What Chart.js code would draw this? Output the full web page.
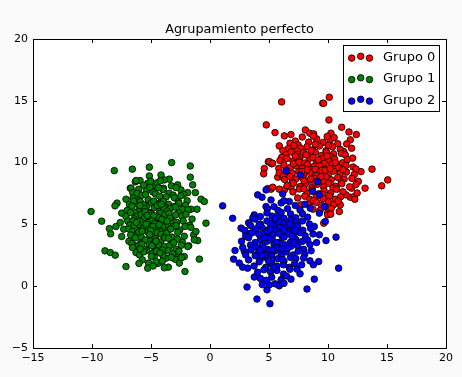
<!DOCTYPE html>
<html>
<head>
<meta charset="utf-8">
<script src="https://cdn.jsdelivr.net/npm/chart.js@4.4.1/dist/chart.umd.min.js"></script>
<style>
html,body{margin:0;padding:0;background:#fafafa;}
canvas{display:block;}
</style>
</head>
<body>
<canvas id="c" width="462" height="377"></canvas>
<script>
const chartTitle = "Agrupamiento perfecto";
const seriesNames = ["Grupo 0", "Grupo 1", "Grupo 2"];
const xTicks = [-15, -10, -5, 0, 5, 10, 15, 20];
const yTicks = [-5, 0, 5, 10, 15, 20];

// Grupo 0 (red)
const grupo0 = [
[6.07,14.91],[9.55,14.8],[4.77,13.05],[5.51,12.43],[6.3,12.16],[6.86,12.27],[8.08,12.64],[8.45,12.38],[8.79,12.32],[5.87,11.35],[6.3,10.87],[4.94,10.06],[5.23,9.9],[4.6,9.52],[4.55,9.09],[5.74,8.82],[4.89,7.9],[6.3,7.79],
[10.11,15.29],[9.63,14.8],[10.08,13.45],[11.16,12.86],[10.25,12.38],[11.78,12.48],[12.4,12.27],[11.89,11.84],[11.58,11.51],[12.0,11.16],[11.33,10.89],[12.09,10.36],[13.73,9.47],[12.8,9.27],[15.06,8.6],[14.55,8.12],[13.14,7.93],[12.0,7.93],[11.89,7.2],[11.53,7.39],[11.04,6.58],[10.96,6.04],
[9.64,5.1],[9.97,5.91],[9.97,5.77],[5.03,10.08],[5.31,9.95],[6.16,8.82],[5.17,7.85],[5.87,7.85],[6.86,8.01],[12.23,7.25],[5.31,8.01],[7.71,6.58],[8.7,6.85],
[7.23,11.74],[7.82,12.07],[8.37,11.66],[9.04,11.92],[9.57,11.63],[10.18,11.81],[10.83,11.52],[7.47,11.43],[8.76,12.14],[9.93,12.11],[6.78,11.57],[10.52,12.02],
[6.63,11.13],[7.12,11.37],[7.68,11.16],[8.23,11.29],[8.71,11.02],[9.27,11.34],[9.83,10.96],[10.38,11.28],[11.04,11.07],[7.38,10.93],[8.93,11.48],[10.03,11.41],[6.17,10.97],
[6.42,10.63],[6.87,10.86],[7.43,10.67],[7.93,10.79],[8.38,10.48],[8.92,10.83],[9.43,10.57],[9.87,10.84],[10.47,10.71],[11.13,10.74],[7.63,10.42],[8.58,10.98],[10.23,10.46],[11.47,10.63],[6.08,10.43],
[5.93,10.17],[6.53,10.34],[7.03,10.12],[7.48,10.28],[8.03,9.97],[8.47,10.36],[9.02,10.07],[9.53,10.33],[10.02,10.19],[10.57,10.28],[11.23,9.98],[7.23,10.52],[8.73,10.41],[9.68,9.93],[11.63,10.24],
[5.83,9.53],[6.27,9.81],[6.83,9.62],[7.27,9.74],[7.83,9.53],[8.27,9.84],[8.83,9.71],[9.27,9.79],[9.82,9.48],[10.33,9.86],[10.87,9.57],[11.53,9.77],[12.13,9.64],[7.08,9.91],[8.57,9.43],[10.63,10.01],[12.37,9.48],
[5.87,9.17],[6.53,9.33],[6.97,9.14],[7.53,9.29],[7.97,9.02],[8.47,9.22],[9.03,8.96],[9.47,9.37],[10.03,9.08],[10.47,9.31],[11.03,9.12],[11.57,9.23],[12.23,9.03],[6.23,8.94],[8.23,9.41],[9.77,9.39],[11.27,9.42],
[6.33,8.63],[6.78,8.87],[7.27,8.67],[7.83,8.78],[8.27,8.48],[8.83,8.74],[9.27,8.53],[9.83,8.84],[10.27,8.61],[10.83,8.79],[11.37,8.67],[12.03,8.73],[12.57,8.48],[6.97,8.42],[9.63,8.44],[11.13,8.43],
[6.53,8.13],[7.07,8.33],[7.63,8.06],[8.07,8.28],[8.63,7.98],[9.07,8.24],[9.63,8.03],[10.07,8.33],[10.63,8.09],[11.17,8.29],[11.83,8.04],[12.37,8.23],[8.87,8.41],[10.43,7.94],
[7.03,7.63],[7.57,7.86],[8.23,7.53],[8.67,7.79],[9.23,7.48],[9.67,7.73],[10.23,7.54],[10.73,7.84],[11.27,7.63],[12.47,7.54],[7.97,7.88],[9.53,7.43],
[7.43,7.14],[8.03,7.28],[8.47,7.03],[9.03,7.33],[9.57,7.08],[10.13,7.28],[10.63,7.04],[11.07,7.23],[8.77,6.93],[12.27,7.03],
[8.27,6.63],[9.03,6.78],[9.47,6.53],[10.03,6.83],[10.47,6.58],[10.87,6.88],[9.77,6.43],
[9.33,6.13],[10.27,6.28],[10.23,5.83],[8.73,6.23],
[8.14,10.63],[9.18,10.22],[7.76,9.27],[9.41,8.87],[8.53,8.67],[7.54,10.04],[10.17,9.52],[8.91,9.46],[9.92,10.53],[7.97,8.52]
];

// Grupo 1 (green)
const grupo1 = [
[-8.11,9.35],[-6.58,9.47],[-5.14,9.63],[-5.14,8.92],[-6.33,8.44],[-5.93,8.55],[-10.08,6.04],[-9.18,5.26],[-7.88,6.72],[-8.05,6.5],[-7.12,7.04],[-7.48,5.91],[-8.53,4.66],[-8.42,4.24],[-7.97,4.83],[-7.6,5.15],[-7.31,4.61],[-7.48,4.02],[-8.9,2.86],[-8.45,2.72],[-8.03,2.51],[-7.12,1.59],[-6.36,3.27],[-6.27,2.72],[-5.37,2.89],[-5.2,1.87],[-5.28,1.46],[-6.75,7.93],
[-3.25,10.0],[-1.67,9.73],[-1.67,8.82],[-3.45,8.66],[-0.34,5.1],[-0.9,2.19],[-2.12,1.19],[-3.53,1.54],[-0.76,7.04],[-0.48,6.85],[-1.1,6.23],[-1.61,6.23],[-1.04,3.69],[-1.38,4.16],[-1.8,3.27],[-1.47,8.2],[-1.24,7.57],[-2.18,2.4],[-2.97,2.19],[-2.6,1.87],[-4.43,1.87],[-4.72,2.4],
[-1.19,4.42],[-1.33,3.75],[-1.89,3.21],[-2.74,2.67],[-3.73,2.27],[-4.38,1.87],
[-4.15,9.0],[-3.87,8.6],[-2.74,8.2],[-2.46,7.79],[-1.89,7.57],[-6.27,8.55],[-6.69,7.93],[-6.55,7.57],[-5.28,8.33],[-4.86,8.12],
[-5.63,8.17],[-4.48,8.36],[-3.94,7.93],[-5.02,8.48],[-3.27,8.12],[-6.04,7.84],[-4.21,8.52],
[-6.18,7.51],[-5.37,7.74],[-4.83,7.62],[-3.98,7.81],[-3.46,7.52],[-2.88,7.98],[-2.24,7.43],[-5.09,8.01],[-4.37,7.96],[-3.12,7.37],
[-6.52,7.14],[-5.77,7.36],[-5.24,7.02],[-4.63,7.47],[-4.08,6.97],[-3.71,7.23],[-3.03,7.16],[-2.47,7.31],[-1.94,6.91],[-5.46,7.41],[-4.27,7.28],[-6.07,6.92],[-2.69,6.84],
[-6.83,6.62],[-6.28,6.71],[-5.91,6.83],[-5.38,6.47],[-4.97,6.74],[-4.53,6.68],[-3.96,6.86],[-3.52,6.63],[-3.07,6.44],[-2.63,6.72],[-2.08,6.54],[-4.77,6.88],[-3.79,6.41],[-5.63,6.58],[-6.48,6.89],[-2.33,6.22],
[-7.03,6.13],[-6.61,6.47],[-6.02,6.18],[-5.58,6.29],[-5.17,5.98],[-4.72,6.36],[-4.26,6.04],[-3.91,6.33],[-3.37,6.27],[-2.93,6.41],[-2.68,5.93],[-1.86,6.17],[-5.94,6.52],[-4.46,6.51],[-3.63,6.08],[-6.34,5.94],
[-7.12,5.63],[-6.73,5.96],[-6.17,5.67],[-5.83,5.79],[-5.36,5.48],[-4.97,5.87],[-4.63,5.52],[-4.18,5.89],[-3.82,5.76],[-3.27,5.49],[-2.91,5.78],[-2.38,5.67],[-2.03,5.82],[-1.52,5.43],[-5.23,5.91],[-4.41,5.58],[-3.47,5.88],[-6.43,5.44],
[-6.97,5.27],[-6.52,5.29],[-6.08,4.98],[-5.68,5.37],[-5.31,5.16],[-4.88,5.39],[-4.52,5.08],[-4.07,5.41],[-3.72,4.99],[-3.18,5.23],[-2.82,5.17],[-2.27,5.28],[-1.73,4.93],[-5.53,5.57],[-4.69,5.06],[-3.41,5.51],[-6.79,4.94],
[-6.88,4.63],[-6.42,4.91],[-5.97,4.48],[-5.62,4.74],[-5.18,4.67],[-4.83,4.84],[-4.37,4.71],[-4.02,4.79],[-3.58,4.49],[-3.13,4.82],[-2.57,4.54],[-2.12,4.83],[-1.63,4.76],[-5.42,5.02],[-4.23,4.44],[-2.87,4.89],[-6.57,4.43],
[-6.72,4.14],[-6.17,4.28],[-5.83,3.98],[-5.27,4.37],[-4.93,4.03],[-4.47,4.33],[-4.13,4.21],[-3.68,4.28],[-3.22,3.97],[-2.73,4.36],[-2.18,4.04],[-5.03,4.52],[-3.87,3.93],[-6.03,4.39],
[-6.87,3.63],[-6.33,3.91],[-5.87,3.48],[-5.47,3.74],[-5.03,3.66],[-4.62,3.83],[-4.18,3.58],[-3.83,3.91],[-3.28,3.49],[-2.77,3.81],[-2.33,3.54],[-4.82,3.43],[-3.52,3.88],[-6.62,3.44],
[-6.57,3.13],[-6.03,3.29],[-5.58,2.98],[-5.13,3.36],[-4.67,3.04],[-4.32,3.33],[-3.87,3.21],[-3.42,3.28],[-2.88,2.97],[-2.43,3.31],[-5.77,3.39],[-4.03,2.93],[-3.07,3.52],
[-5.97,2.53],[-5.62,2.78],[-4.87,2.66],[-4.53,2.84],[-3.98,2.48],[-3.52,2.87],[-3.17,2.61],[-2.63,2.83],[-5.92,3.01],[-4.23,2.69],
[-5.73,2.13],[-4.97,2.41],[-4.03,2.03],[-3.28,2.33],[-2.42,2.31],[-4.58,1.98],
[-4.82,1.63],[-3.87,1.49],[-6.02,1.84],
[-5.12,4.18],[-4.76,5.71],[-4.31,4.97],[-5.49,6.02],[-3.64,5.27],[-4.93,3.27],[-5.76,4.46],[-4.14,6.63],[-3.32,4.63],[-5.32,5.72],[-4.57,3.64],[-6.24,5.16]
];

// Grupo 2 (blue)
const grupo2 = [
[1.92,5.5],[4.04,7.39],[4.41,7.2],[4.75,7.79],[1.07,6.5],[2.0,2.19],[2.12,2.89],[3.14,-0.07],[3.98,-1.04],[5.08,-1.42],[4.83,-0.29],[3.75,0.74],[10.9,1.46],[10.68,3.97],[8.84,0.57],[8.22,-0.23],[7.63,1.0],[2.48,1.87],[2.77,1.54],[3.19,1.46],[9.83,3.69],[9.21,1.99],[8.47,2.05],[8.76,1.73],[6.86,0.57],[9.27,5.91],
[6.44,9.33],[7.65,9.0],[9.13,8.46],[9.27,7.39],[6.16,7.47],[8.5,6.31],[9.69,6.44],[8.7,7.66],[6.72,6.85],
[2.63,4.7],[3.05,4.29],[3.47,4.29],[2.91,2.81],[3.75,5.77],[4.75,6.44],[5.17,6.98],[5.03,0.11],[5.53,0.19],[5.87,0.03],[9.77,5.23],[9.27,4.16],[8.84,4.83],
[5.43,6.43],[6.03,6.74],[6.57,6.27],[7.23,6.53],[5.77,6.13],[7.63,6.17],[6.27,6.91],[4.87,6.27],[8.03,6.63],
[4.27,5.63],[4.83,5.93],[5.27,5.67],[5.83,5.78],[6.27,5.49],[6.83,5.84],[7.27,5.54],[7.83,5.87],[8.27,5.58],[3.63,5.53],[6.03,5.97],
[3.27,5.13],[3.83,5.43],[4.27,5.03],[4.83,5.28],[5.27,5.13],[5.83,5.23],[6.27,5.04],[6.83,5.33],[7.27,5.21],[7.83,5.28],[8.43,5.03],[5.53,5.48],[6.97,4.93],
[2.93,4.53],[3.43,4.91],[3.87,4.63],[4.43,4.73],[4.87,4.54],[5.43,4.83],[5.87,4.72],[6.43,4.78],[6.87,4.48],[7.43,4.87],[7.87,4.53],[8.53,4.68],[5.13,5.01],[6.63,4.43],[4.17,4.97],
[3.03,4.03],[3.57,4.33],[4.13,4.21],[4.63,4.28],[5.07,3.98],[5.63,4.47],[6.13,4.03],[6.63,4.23],[7.07,4.13],[7.63,4.33],[8.07,4.08],[8.73,4.23],[4.87,4.47],[6.27,4.53],[5.33,4.14],
[2.67,3.63],[3.27,3.93],[3.83,3.53],[4.27,3.78],[4.83,3.63],[5.27,3.73],[5.83,3.53],[6.27,3.97],[6.83,3.58],[7.27,3.78],[7.83,3.63],[8.27,3.73],[9.03,3.53],[5.03,3.88],[6.07,3.44],[6.97,4.03],
[2.77,3.13],[3.43,3.33],[3.87,3.17],[4.43,3.28],[4.87,2.98],[5.43,3.37],[5.87,3.03],[6.43,3.33],[6.87,3.23],[7.43,3.28],[7.93,2.98],[8.47,3.37],[5.63,3.53],[4.57,3.07],[7.13,3.52],
[3.03,2.53],[3.47,2.93],[4.03,2.63],[4.47,2.73],[5.03,2.53],[5.47,2.83],[6.03,2.63],[6.47,2.78],[7.03,2.53],[7.47,2.83],[8.03,2.58],[8.57,2.87],[4.23,2.88],[6.17,3.04],[5.23,2.43],
[3.27,2.13],[3.83,2.47],[4.27,2.17],[4.83,2.28],[5.27,2.13],[5.77,2.23],[6.27,2.03],[6.83,2.33],[7.27,2.23],[7.93,2.28],[4.63,2.53],[6.07,2.43],
[3.73,1.63],[4.17,1.97],[4.73,1.53],[5.23,1.78],[5.67,1.63],[6.23,1.73],[6.73,1.53],[7.17,1.83],[7.77,1.73],[4.97,2.03],
[4.03,1.13],[4.57,1.33],[5.13,1.17],[5.67,1.28],[6.23,0.98],[6.77,1.37],[7.37,1.38],[5.43,1.53],
[4.27,0.63],[5.23,0.73],[6.03,0.53],[6.47,0.83],[4.77,0.48],
[4.43,0.13],[6.27,0.23],
[5.61,3.12],[4.62,3.91],[6.58,3.07],[5.12,4.62],[6.12,2.16],[5.84,4.27],[4.38,2.47],[7.22,4.52],[5.32,2.97],[6.74,5.02]
];

const seriesColors = ["#ff0000", "#008000", "#0000ff"];
const allSeries = [grupo0, grupo1, grupo2];

const FONT = "'DejaVu Sans', sans-serif";
const fmt = v => String(v).replace('-', '\u2212');

const framePlugin = {
  id: 'frame',
  beforeDraw(chart) {
    const ctx = chart.ctx;
    ctx.save();
    ctx.fillStyle = '#fafafa';
    ctx.fillRect(0, 0, chart.width, chart.height);
    const a = chart.chartArea;
    ctx.fillStyle = '#ffffff';
    ctx.fillRect(a.left, a.top, a.right - a.left, a.bottom - a.top);
    ctx.restore();
  },
  afterDraw(chart) {
    const ctx = chart.ctx;
    const a = chart.chartArea;
    const xs = chart.scales.x, ys = chart.scales.y;
    ctx.save();
    ctx.strokeStyle = '#000';
    ctx.lineWidth = 1;
    ctx.beginPath();
    xTicks.forEach(v => {
      const px = Math.round(xs.getPixelForValue(v)) + 0.5;
      ctx.moveTo(px, a.bottom); ctx.lineTo(px, a.bottom - 4);
      ctx.moveTo(px, a.top); ctx.lineTo(px, a.top + 4);
    });
    yTicks.forEach(v => {
      const py = Math.round(ys.getPixelForValue(v)) + 0.5;
      ctx.moveTo(a.left, py); ctx.lineTo(a.left + 4, py);
      ctx.moveTo(a.right, py); ctx.lineTo(a.right - 4, py);
    });
    ctx.stroke();
    ctx.strokeRect(Math.round(a.left) + 0.5, Math.round(a.top) + 0.5, Math.round(a.right - a.left), Math.round(a.bottom - a.top));
    // title
    ctx.fillStyle = '#000';
    ctx.font = '12.8px ' + FONT;
    ctx.textAlign = 'center';
    ctx.textBaseline = 'alphabetic';
    ctx.fillText(chartTitle, (a.left + a.right) / 2, a.top - 6);
    // legend
    const bx = 343.5, by = 45.5, bw = 96, bh = 66;
    ctx.fillStyle = '#ffffff';
    ctx.fillRect(bx, by, bw, bh);
    ctx.strokeStyle = '#000';
    ctx.strokeRect(bx, by, bw, bh);
    const rowY = [57.5, 79, 100.5];
    const mX = [351.7, 360.7, 369.5];
    const mDy = [0.6, -1.2, 0.6];
    seriesNames.forEach((name, i) => {
      mX.forEach((mx, k) => {
        ctx.beginPath();
        ctx.arc(mx, rowY[i] + mDy[k], 3.3, 0, Math.PI * 2);
        ctx.fillStyle = seriesColors[i];
        ctx.fill();
        ctx.lineWidth = 0.8;
        ctx.strokeStyle = '#000';
        ctx.stroke();
      });
      ctx.fillStyle = '#000';
      ctx.font = '13px ' + FONT;
      ctx.textAlign = 'left';
      ctx.textBaseline = 'middle';
      ctx.fillText(name, 383, rowY[i]);
    });
    ctx.restore();
  }
};

new Chart(document.getElementById('c'), {
  type: 'scatter',
  data: {
    datasets: allSeries.map((pts, i) => ({
      label: seriesNames[i],
      data: pts.map(p => ({x: p[0], y: p[1]})),
      backgroundColor: seriesColors[i],
      borderColor: '#000000',
      borderWidth: 0.8,
      pointRadius: 3.3,
      pointHoverRadius: 3.3,
      order: 2 - i
    }))
  },
  options: {
    responsive: false,
    animation: false,
    devicePixelRatio: 1,
    layout: { padding: { top: 39, right: 16, left: 0, bottom: 0 } },
    plugins: { legend: { display: false }, title: { display: false }, tooltip: { enabled: false } },
    scales: {
      x: {
        type: 'linear', min: -15, max: 20,
        afterBuildTicks: s => { s.ticks = xTicks.map(v => ({value: v})); },
        afterFit: s => { s.height = 29; },
        grid: { display: false, drawTicks: false },
        border: { display: false },
        ticks: { color: '#000', font: { family: FONT, size: 11 }, padding: 4, maxRotation: 0, callback: v => fmt(v) }
      },
      y: {
        type: 'linear', min: -5, max: 20,
        afterBuildTicks: s => { s.ticks = yTicks.map(v => ({value: v})); },
        afterFit: s => { s.width = 33; },
        grid: { display: false, drawTicks: false },
        border: { display: false },
        ticks: { color: '#000', font: { family: FONT, size: 11 }, padding: 5, callback: v => fmt(v) }
      }
    }
  },
  plugins: [framePlugin]
});
</script>
</body>
</html>
